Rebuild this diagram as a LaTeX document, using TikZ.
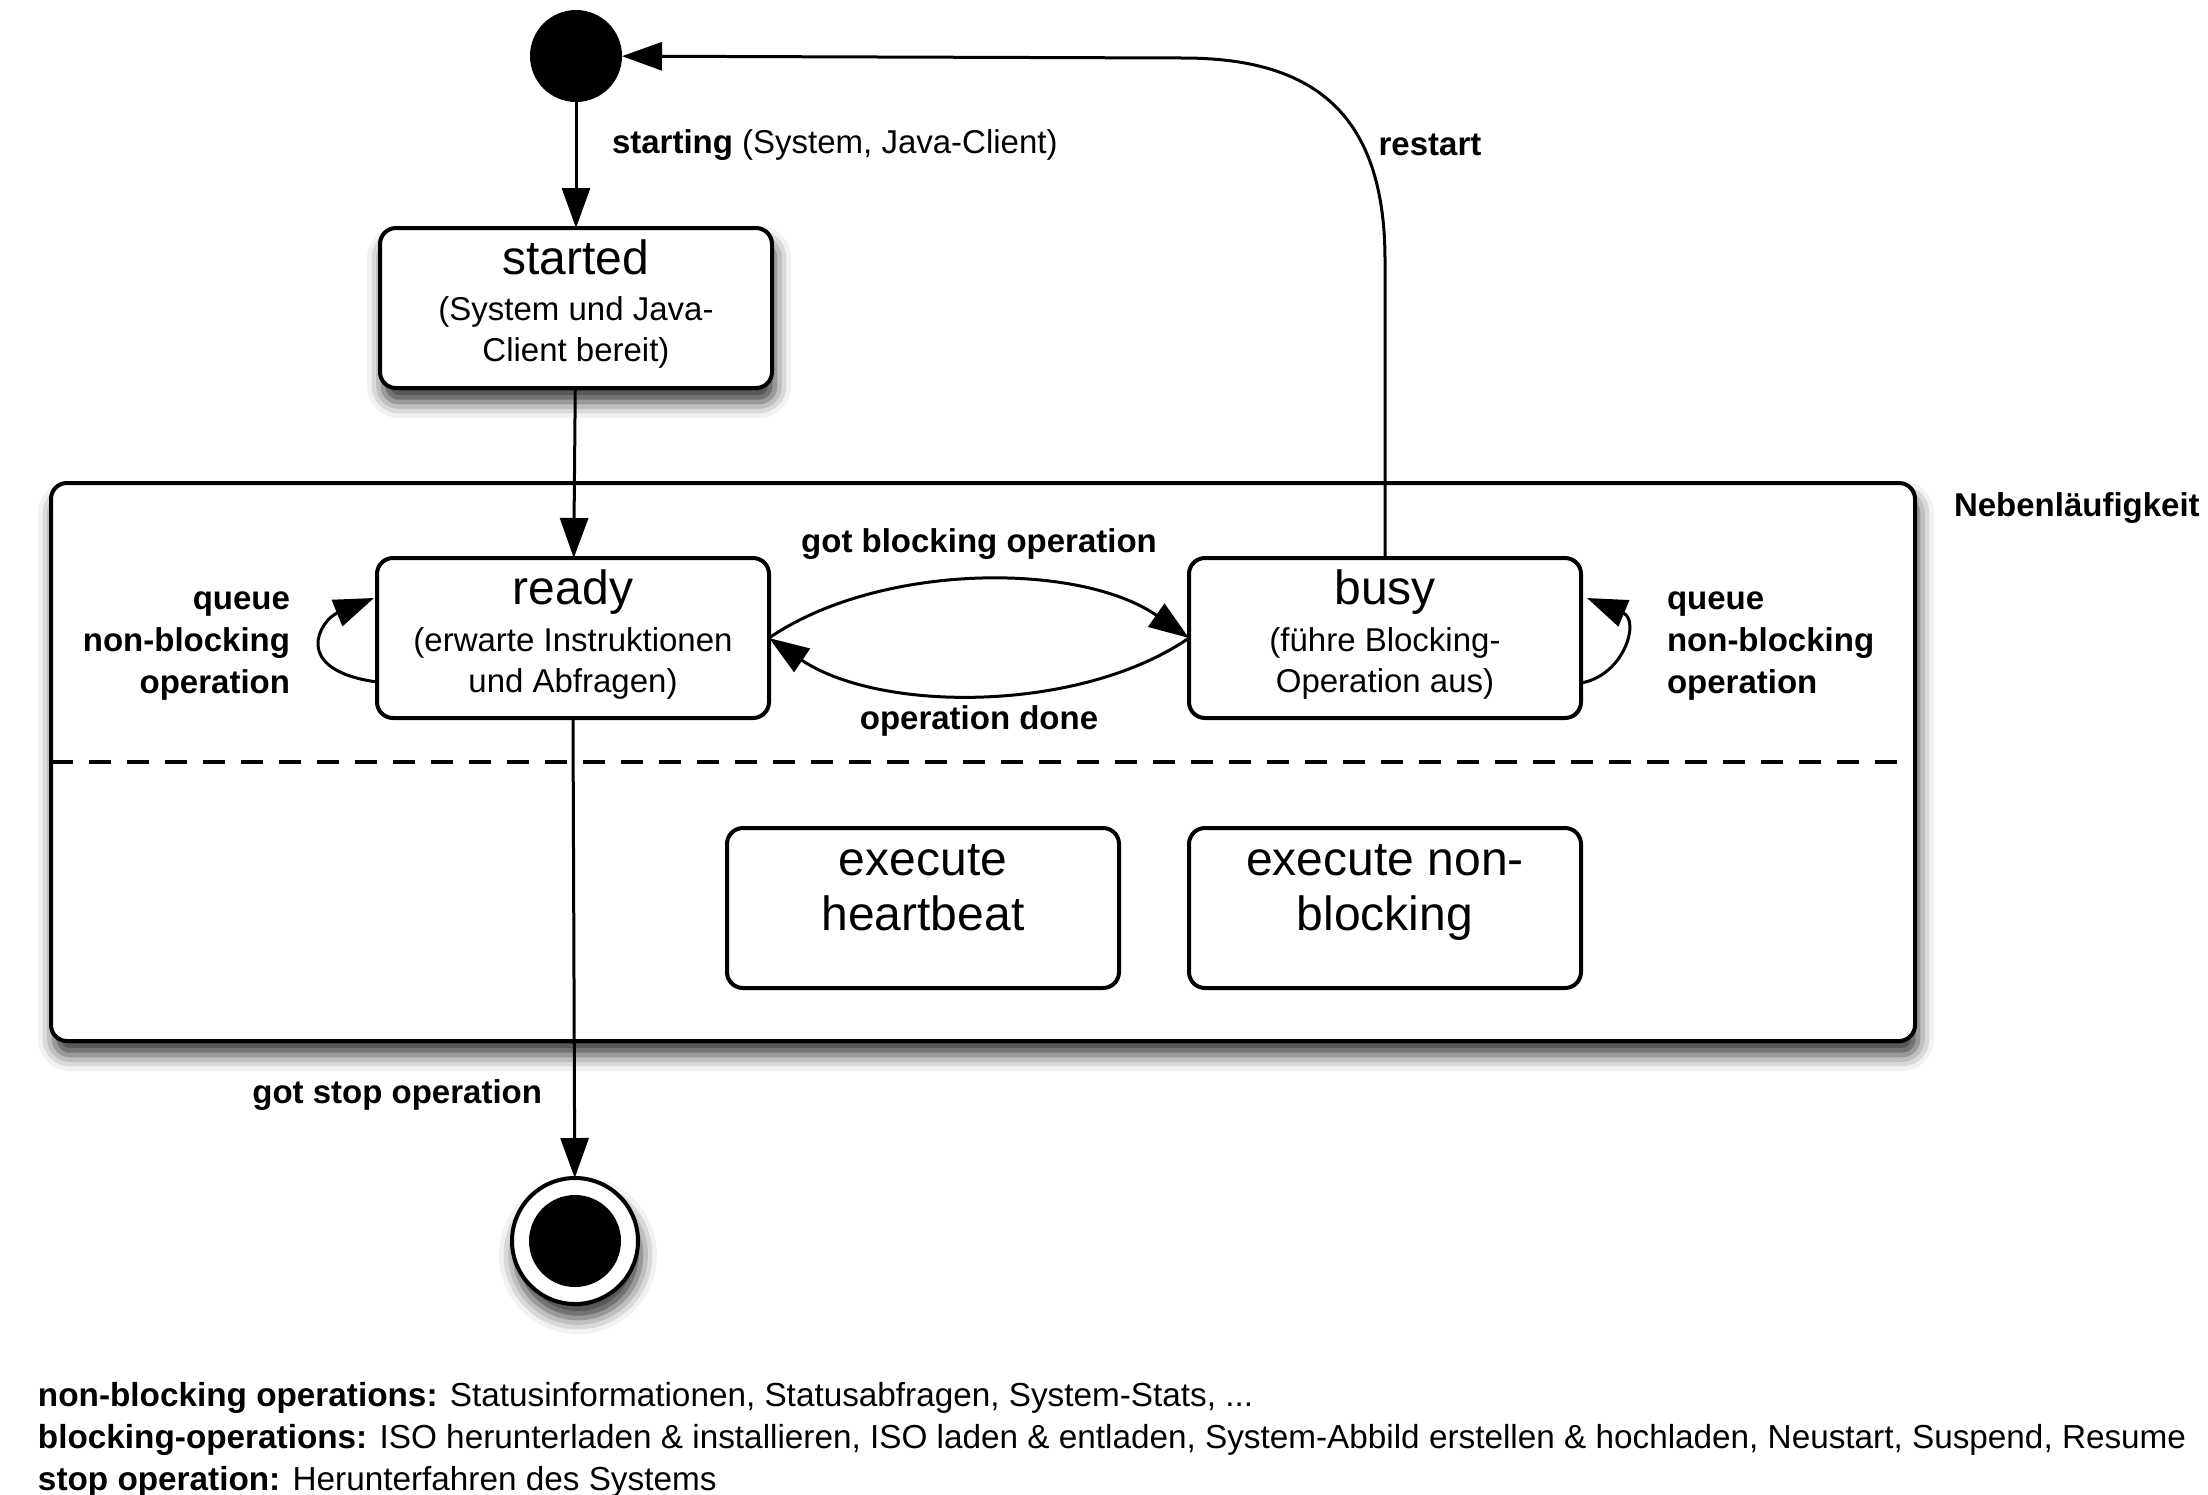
\documentclass[tikz,border=0pt]{standalone}
\usepackage{fontspec}
\setmainfont{Liberation Sans}
\usetikzlibrary{arrows.meta,calc,shadows.blur}
\begin{document}
\begin{tikzpicture}[x=0.5pt,y=-0.5pt,
  every node/.style={inner sep=0pt, outer sep=0pt},
  state/.style={draw, line width=2pt, rounded corners=8pt, fill=white, minimum width=196pt, minimum height=80pt},
  shadowed/.style={blur shadow={shadow xshift=1.5pt, shadow yshift=-7pt, shadow blur radius=8pt, shadow opacity=80}},
  ttl/.style={font=\fontsize{24pt}{27.5pt}\selectfont, align=center},
  sub/.style={font=\fontsize{16.5pt}{20.5pt}\selectfont, align=center},
  lbl/.style={font=\fontsize{16.5pt}{21pt}\selectfont\bfseries},
  conn/.style={line width=1.5pt, -{Triangle[length=20pt,width=14pt]}},
]
\useasboundingbox (0,0) rectangle (2208,1495);

% container
\node[draw, line width=2pt, rounded corners=8pt, fill=white, minimum width=932pt, minimum height=279pt, shadowed] (conc) at (983,762) {};
\draw[line width=2pt, dash pattern=on 11pt off 8pt] (conc.west) -- ($(conc.east)+(-8,0)$);
\node[lbl, anchor=west] (nebenl) at (1954,508) {Nebenläufigkeit};

% start
\node[circle, fill=black, minimum size=46pt] (start) at (576,56) {};

% started
\node[state, shadowed] (started) at (576,308) {};
\node[ttl] (startedT) at (576,257) {started};
\node[sub] (startedS) at (576,332) {(System und Java-\\Client bereit)};

% ready
\node[state] (ready) at (573,638) {};
\node[ttl] (readyT) at (573,592) {ready};
\node[sub] (readyS) at (573,663) {(erwarte Instruktionen\\und Abfragen)};

% busy
\node[state] (busy) at (1385,638) {};
\node[ttl] (busyT) at (1385,592) {busy};
\node[sub] (busyS) at (1385,663) {(führe Blocking-\\Operation aus)};

% execute boxes
\node[state] (heart) at (923,908) {};
\node[ttl] (heartT) at (923,888) {execute\\heartbeat};
\node[state] (nonbl) at (1385,908) {};
\node[ttl] (nonblT) at (1385,892) {execute non-\\blocking};

% end
\node[circle, draw, line width=2pt, fill=white, minimum size=63pt, shadowed] (end) at (575,1241) {};
\node[circle, fill=black, minimum size=46pt] (endin) at (end) {};

% connectors
\draw[conn] (start) -- (started);
\draw[conn] (started) -- (ready);
\draw[conn] (ready.south) -- (end);
\draw[conn] (busy.north) -- (1385,260) .. controls (1385,110) and (1310,58) .. (1183,58) -- (start);
\draw[conn] (ready.east) .. controls (880,562) and (1080,562) .. (busy.west);
\draw[conn] (busy.west) .. controls (1080,713) and (880,713) .. (ready.east);
\draw[conn] ($(ready.west)+(0,44)$) .. controls (290,670) and (320,620) .. ($(ready.west)+(-3,-40)$);
\draw[conn] ($(busy.east)+(0,45)$) .. controls (1625,675) and (1640,620) .. ($(busy.east)+(6,-40)$);

% labels
\node[lbl, anchor=west] (lstart) at (612,145) {starting \mdseries(System, Java-Client)};
\node[lbl] (lrestart) at (1430,145) {restart};
\node[lbl, anchor=east] (lstop) at (542,1095) {got stop operation};
\node[lbl] (lgot) at (979,544) {got blocking operation};
\node[lbl] (ldone) at (979,721) {operation done};
\node[lbl, anchor=east, align=right] (lqL) at (290,646) {queue\\non-blocking\\operation};
\node[lbl, anchor=west, align=left] (lqR) at (1667,646) {queue\\non-blocking\\operation};

% legend
\node[font=\fontsize{16.65pt}{21pt}\selectfont, anchor=west, align=left] (legend) at (38,1440)
 {\textbf{non-blocking operations:} Statusinformationen, Statusabfragen, System-Stats, ...\\
  \textbf{blocking-operations:} ISO herunterladen \& installieren, ISO laden \& entladen, System-Abbild erstellen \& hochladen, Neustart, Suspend, Resume\\
  \textbf{stop operation:} Herunterfahren des Systems};
\end{tikzpicture}
\end{document}
